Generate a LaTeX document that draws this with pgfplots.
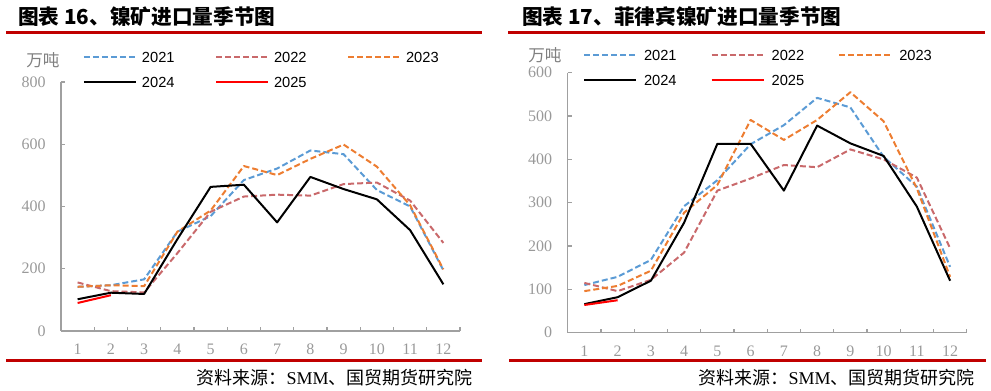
\documentclass[border=0pt]{standalone}
\usepackage{pgfplots}
\pgfplotsset{compat=1.18}
\usepackage{fontspec}
\setmainfont{Liberation Serif}
\newfontfamily\sans{Liberation Sans}
\newfontfamily\cjk{Noto Sans CJK SC}
\definecolor{c21}{HTML}{5B9BD5}
\definecolor{c22}{HTML}{C9696B}
\definecolor{c23}{HTML}{ED7D31}
\definecolor{c25}{HTML}{FF0000}
\definecolor{axisgray}{HTML}{A0A0A0}
\definecolor{labelgray}{HTML}{999999}
\definecolor{rulered}{HTML}{C00000}
\pgfplotsset{
  panel/.style={
    scale only axis,
    axis lines=left,
    axis line style={-, draw=axisgray, line width=0.9pt},
    xmin=0.5, xmax=12.5, ymin=0,
    tick align=inside,
    major tick length=3pt,
    tick style={draw=axisgray, line width=0.9pt},
    xtick={0.5,1.5,...,12.5},
    xticklabels={},
    extra x ticks={1,2,3,4,5,6,7,8,9,10,11,12},
    extra x tick labels={1,2,3,4,5,6,7,8,9,10,11,12},
    extra x tick style={major tick length=0pt, tick style={draw=none}},
    /pgf/number format/assume math mode=true,
    ticklabel style={font=\fontsize{12}{14}\selectfont, text=labelgray},
    xticklabel style={anchor=base, inner sep=0pt, yshift=-18pt},
    yticklabel style={anchor=east, inner sep=0pt, xshift=-11.25pt},
    every axis plot/.append style={line width=1.5pt, line join=round},
    legend columns=3,
    legend cell align=left,
    legend image code/.code={\draw[##1] (0pt,0pt) -- (39pt,0pt);},
    clip=false,
  },
  dsh/.style={dash pattern=on 4.5pt off 2.25pt},
}
\begin{document}
\begin{tikzpicture}
\path[use as bounding box] (0pt,0pt) rectangle (743.25pt,293.25pt);
% titles and rules
\node[anchor=west, inner sep=0pt] at (13.5pt,280.5pt) {\cjk\bfseries\fontsize{15.5}{17}\selectfont 图表 16、镍矿进口量季节图};
\node[anchor=west, inner sep=0pt] at (391.5pt,280.5pt) {\cjk\bfseries\fontsize{15.5}{17}\selectfont 图表 17、菲律宾镍矿进口量季节图};
\draw[rulered, line width=2.25pt] (4.5pt,268.9pt) -- (361.5pt,268.9pt);
\draw[rulered, line width=2.25pt] (381pt,268.9pt) -- (738.75pt,268.9pt);
\draw[rulered, line width=2.25pt] (4.5pt,22.5pt) -- (361.5pt,22.5pt);
\draw[rulered, line width=2.25pt] (381.75pt,22.5pt) -- (739.5pt,22.5pt);
\node[anchor=east, inner sep=0pt] at (354.75pt,9.75pt) {\fontsize{13.5}{15}\selectfont{\cjk 资料来源：}SMM{\cjk 、国贸期货研究院}};
\node[anchor=east, inner sep=0pt] at (731.25pt,9.75pt) {\fontsize{13.5}{15}\selectfont{\cjk 资料来源：}SMM{\cjk 、国贸期货研究院}};
\node[anchor=west, inner sep=0pt, text=gray] at (19.5pt,248.25pt) {\cjk\fontsize{12.5}{14}\selectfont 万吨};
\node[anchor=west, inner sep=0pt, text=gray] at (396pt,252pt) {\cjk\fontsize{12.5}{14}\selectfont 万吨};

% left panel
\begin{axis}[panel,
  at={(45.75pt,45pt)}, anchor=south west,
  width=299.25pt, height=186.75pt,
  ymax=800, ytick={0,200,400,600,800},
  legend style={draw=none, fill=none, inner sep=0pt, outer sep=0pt,
    at={(0.0551,1.120)}, anchor=north west,
    font=\sans\fontsize{11}{13}\selectfont,
    nodes={inner sep=0pt, text height=8pt, text depth=0pt},
    row sep=10.5pt,
    /tikz/every odd column/.append style={column sep=3.75pt},
    /tikz/every even column/.append style={column sep=30.3pt}},
]
\addplot[c21, dsh] coordinates {(1,142)(2,147)(3,166)(4,319)(5,369)(6,485)(7,522)(8,580)(9,568)(10,453)(11,400)(12,195)};
\addlegendentry{2021}
\addplot[c22, dsh] coordinates {(1,156)(2,128)(3,124)(4,250)(5,383)(6,432)(7,438)(8,435)(9,472)(10,477)(11,419)(12,283)};
\addlegendentry{2022}
\addplot[c23, dsh] coordinates {(1,142)(2,147)(3,144)(4,319)(5,387)(6,530)(7,501)(8,553)(9,599)(10,528)(11,404)(12,198)};
\addlegendentry{2023}
\addplot[black] coordinates {(1,102)(2,123)(3,119)(4,295)(5,463)(6,470)(7,349)(8,495)(9,456)(10,423)(11,324)(12,150)};
\addlegendentry{2024}
\addplot[c25] coordinates {(1,90)(2,115)};
\addlegendentry{2025}
\end{axis}

% right panel
\begin{axis}[panel,
  at={(425.8pt,43.7pt)}, anchor=south west,
  width=299.25pt, height=195pt,
  ymax=600, ytick={0,100,200,300,400,500,600},
  yticklabel style={xshift=-0.25pt},
  legend style={draw=none, fill=none, inner sep=0pt, outer sep=0pt,
    at={(0.0383,1.088)}, anchor=north west,
    font=\sans\fontsize{11}{13}\selectfont,
    nodes={inner sep=0pt, text height=8pt, text depth=0pt},
    row sep=10.75pt,
    /tikz/every odd column/.append style={column sep=5.25pt},
    /tikz/every even column/.append style={column sep=25.5pt}},
]
\addplot[c21, dsh] coordinates {(1,110)(2,129)(3,168)(4,292)(5,352)(6,435)(7,479)(8,542)(9,520)(10,406)(11,337)(12,152)};
\addlegendentry{2021}
\addplot[c22, dsh] coordinates {(1,115)(2,96)(3,122)(4,185)(5,328)(6,356)(7,387)(8,382)(9,423)(10,400)(11,358)(12,195)};
\addlegendentry{2022}
\addplot[c23, dsh] coordinates {(1,96)(2,108)(3,143)(4,277)(5,341)(6,491)(7,445)(8,491)(9,555)(10,488)(11,333)(12,129)};
\addlegendentry{2023}
\addplot[black] coordinates {(1,66)(2,82)(3,120)(4,254)(5,436)(6,436)(7,328)(8,478)(9,437)(10,408)(11,291)(12,120)};
\addlegendentry{2024}
\addplot[c25] coordinates {(1,64)(2,75)};
\addlegendentry{2025}
\end{axis}
\end{tikzpicture}
\end{document}
